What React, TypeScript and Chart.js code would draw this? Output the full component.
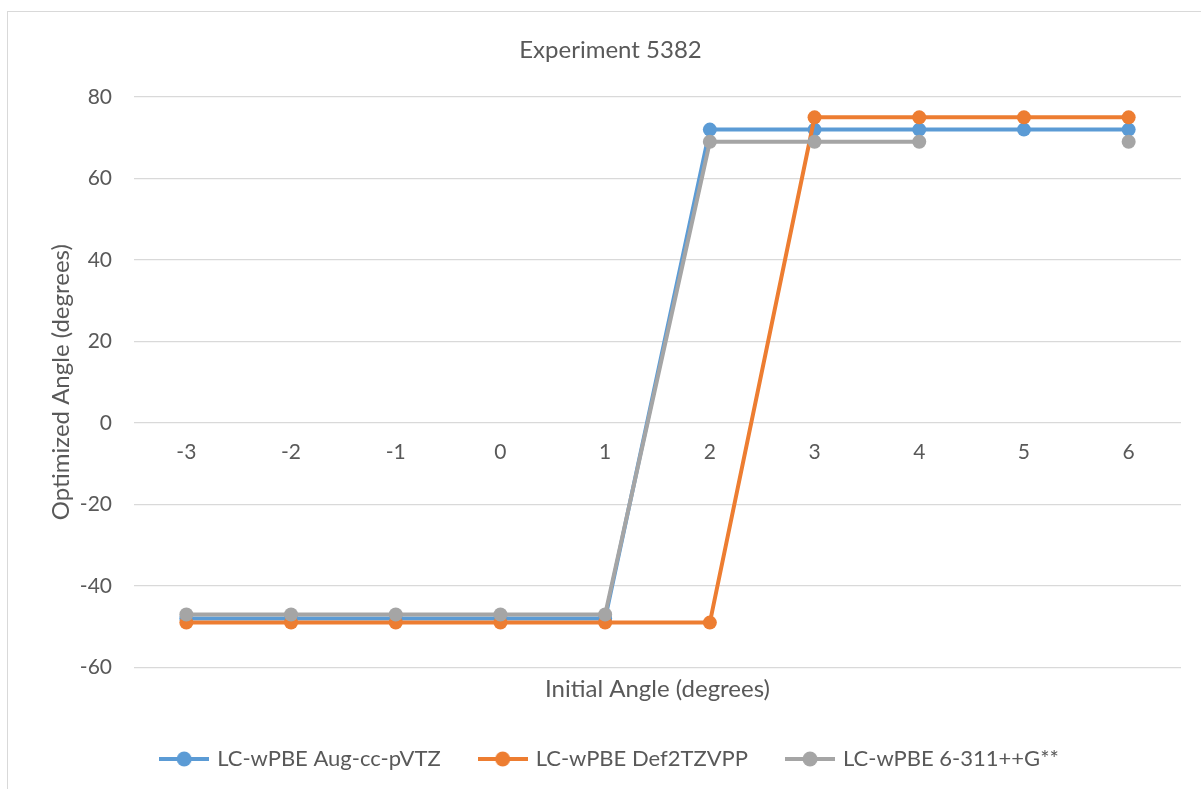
import React, { useEffect, useRef } from "react";
import { Chart, registerables } from "chart.js";

Chart.register(...registerables);

const categories = ["-3", "-2", "-1", "0", "1", "2", "3", "4", "5", "6"];
const augValues = [-48, -48, -48, -48, -48, 72, 72, 72, 72, 72];
const def2Values = [-49, -49, -49, -49, -49, -49, 75, 75, 75, 75];
const popleValues: (number | null)[] = [-47, -47, -47, -47, -47, 69, 69, 69, null, 69];
const seriesNames = ["LC-wPBE Aug-cc-pVTZ", "LC-wPBE Def2TZVPP", "LC-wPBE 6-311++G**"];
const seriesColors = ["#5B9BD5", "#ED7D31", "#A5A5A5"];
const yTicks = [-60, -40, -20, 0, 20, 40, 60, 80];

const FONT = "Lato, 'Open Sans', sans-serif";
const TEXT = "#595959";

function legendIcon(color: string): HTMLCanvasElement {
  const c = document.createElement("canvas");
  c.width = 50;
  c.height = 16;
  const ctx = c.getContext("2d")!;
  ctx.strokeStyle = color;
  ctx.lineWidth = 4;
  ctx.beginPath();
  ctx.moveTo(0, 8);
  ctx.lineTo(50, 8);
  ctx.stroke();
  ctx.fillStyle = color;
  ctx.beginPath();
  ctx.arc(25, 8, 7.5, 0, Math.PI * 2);
  ctx.fill();
  return c;
}

export default function App() {
  const ref = useRef<HTMLCanvasElement>(null);
  useEffect(() => {
    const values = [augValues, def2Values, popleValues];
    const orders = [2, 1, 0];
    const icons = seriesColors.map(legendIcon);
    const chart = new Chart(ref.current!, {
      type: "line",
      data: {
        labels: categories,
        datasets: seriesNames.map((name, i) => ({
          label: name,
          data: values[i],
          borderColor: seriesColors[i],
          backgroundColor: seriesColors[i],
          borderWidth: 4,
          pointRadius: 7,
          pointHoverRadius: 7,
          pointBorderWidth: 0,
          spanGaps: false,
          tension: 0,
          order: orders[i],
        })),
      },
      options: {
        animation: false,
        responsive: false,
        maintainAspectRatio: false,
        layout: { padding: { left: 40, right: 20, top: 0, bottom: 9 } },
        plugins: {
          tooltip: { enabled: false },
          title: {
            display: true,
            text: "Experiment 5382",
            color: TEXT,
            font: { family: FONT, size: 24, weight: "normal" },
            padding: { top: 36, bottom: 32.2 },
          },
          legend: {
            position: "bottom",
            labels: {
              usePointStyle: true,
              pointStyleWidth: 44,
              padding: 40,
              color: TEXT,
              font: { family: FONT, size: 22 },
              generateLabels: (ch: any) =>
                ch.data.datasets.map((ds: any, i: number) => ({
                  text: ds.label,
                  pointStyle: icons[i],
                  fillStyle: seriesColors[i],
                  strokeStyle: seriesColors[i],
                  lineWidth: 0,
                  hidden: false,
                  datasetIndex: i,
                  fontColor: TEXT,
                })),
            },
          },
        },
        scales: {
          y: {
            min: -60,
            max: 80,
            afterBuildTicks: (s: any) => {
              s.ticks = yTicks.map((v) => ({ value: v }));
            },
            afterFit: (s: any) => {
              s.width = 94;
            },
            grid: { color: "#D9D9D9", lineWidth: 1.3, drawTicks: false },
            border: { display: false },
            ticks: { color: TEXT, font: { family: FONT, size: 21 }, padding: 22 },
            title: {
              display: true,
              text: "Optimized Angle (degrees)",
              color: TEXT,
              font: { family: FONT, size: 24 },
              padding: { top: 6.6, bottom: 0 },
            },
          },
          x: {
            type: "category",
            position: { y: 0 } as any,
            offset: true,
            grid: { display: false, drawTicks: false },
            border: { display: false },
            ticks: { color: TEXT, font: { family: FONT, size: 21 }, padding: 16.6, maxRotation: 0 },
          },
          x2: {
            type: "category",
            position: "bottom",
            offset: true,
            grid: { display: false, drawTicks: false },
            border: { display: false },
            ticks: { display: false },
            title: {
              display: true,
              text: "Initial Angle (degrees)",
              color: TEXT,
              font: { family: FONT, size: 24 },
              padding: { top: 7.6, bottom: 4.2 },
            },
          },
        },
      } as any,
    });
    return () => chart.destroy();
  }, []);

  return (
    <div style={{ position: "absolute", left: 0, top: 0, width: 1201, height: 789, overflow: "hidden", background: "#fff" }}>
      <div
        style={{
          position: "absolute",
          left: 7,
          top: 11,
          width: 1300,
          height: 900,
          border: "1.5px solid #D9D9D9",
        }}
      />
      <canvas ref={ref} width={1201} height={789} style={{ position: "absolute", left: 0, top: 0, width: 1201, height: 789 }} />
    </div>
  );
}
